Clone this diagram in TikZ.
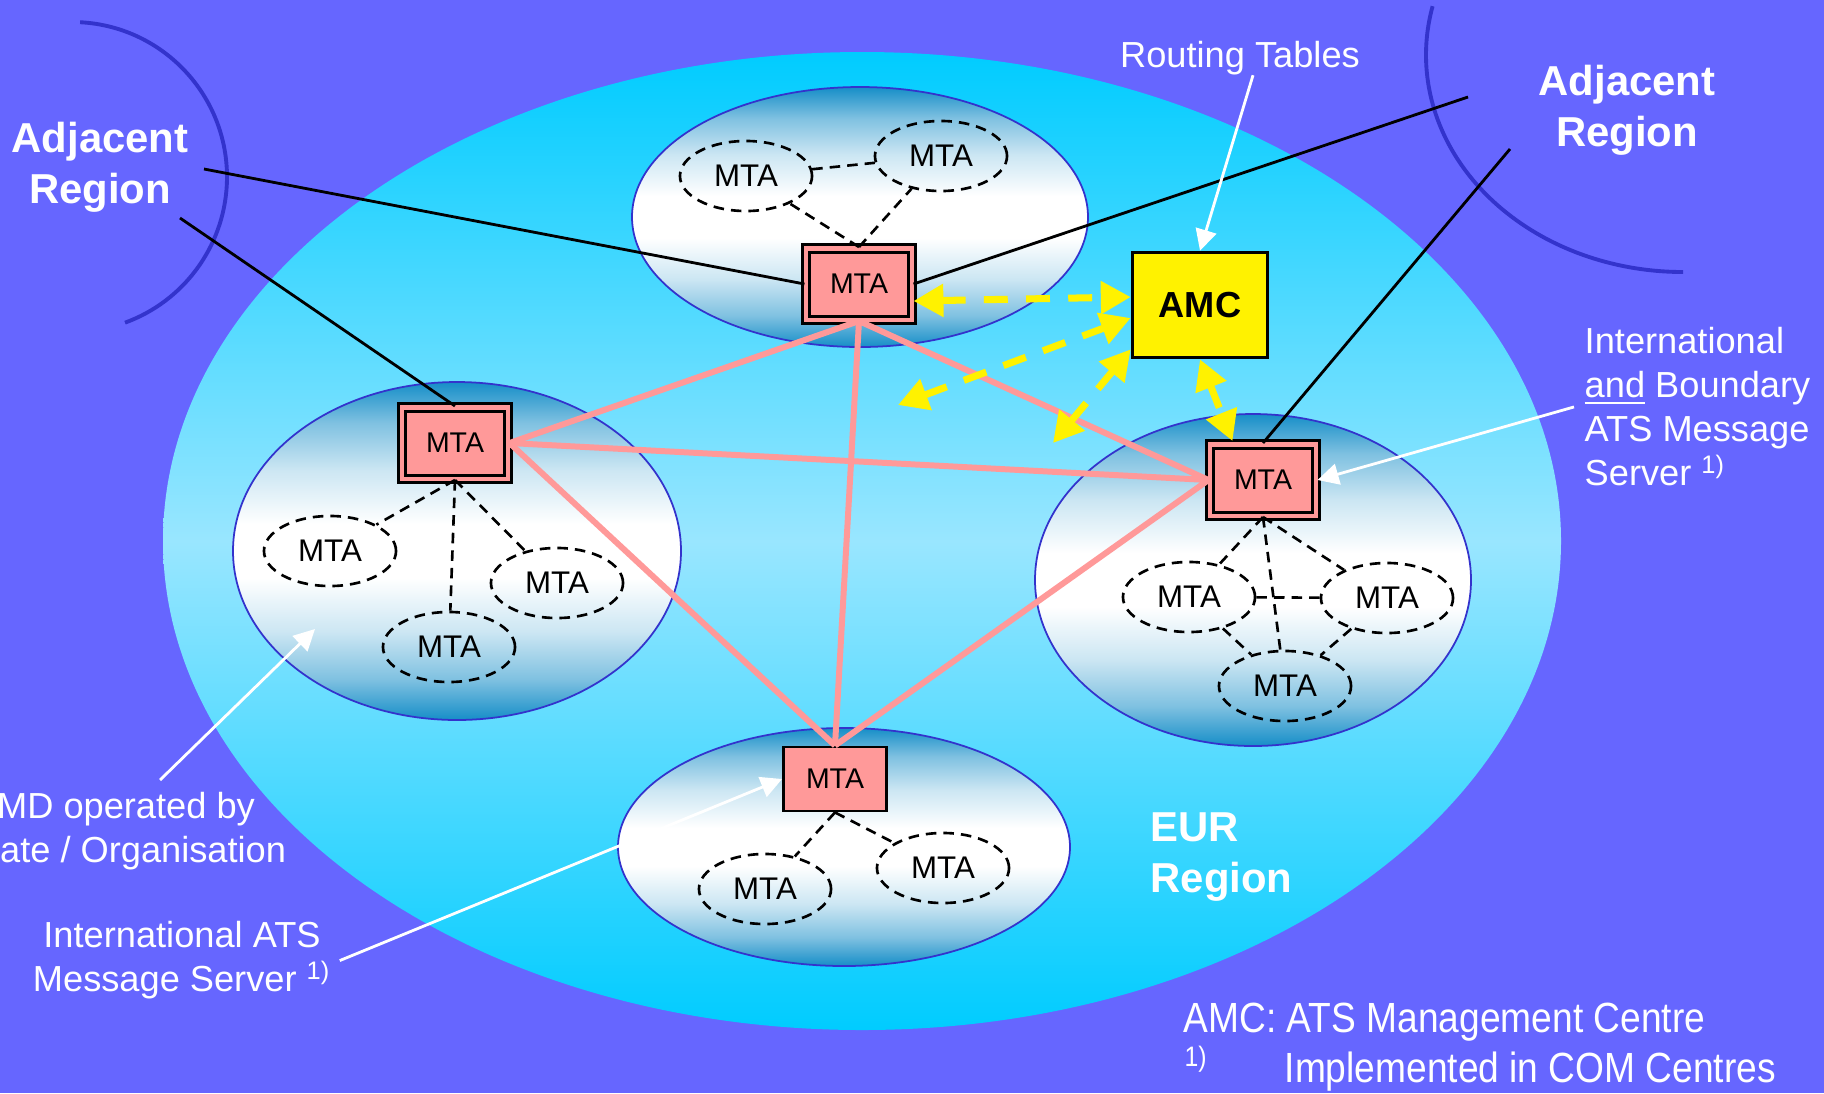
\documentclass[tikz,border=0pt]{standalone}
\usepackage{fontspec}
\setmainfont{Liberation Sans}
\newfontfamily\narrowfont[FakeStretch=0.88]{Liberation Sans}
\usepackage{xcolor}
\usetikzlibrary{positioning, arrows.meta, calc, shapes.geometric}

\definecolor{bgblue}{RGB}{102,102,255}
\definecolor{eurtop}{RGB}{0,204,255}
\definecolor{eurmid}{RGB}{153,230,255}
\definecolor{mdedge}{RGB}{22,142,200}
\colorlet{mdhalf}{mdedge!55!white}
\colorlet{mdpale}{mdedge!22!white}
\definecolor{mtapink}{RGB}{255,153,153}
\definecolor{rimblue}{RGB}{51,51,204}

\pgfdeclareverticalshading{mdshade}{100bp}{color(0bp)=(mdedge); color(25bp)=(mdedge);
  color(31bp)=(mdhalf); color(38bp)=(mdpale); color(46bp)=(white); color(54bp)=(white);
  color(62bp)=(mdpale); color(69bp)=(mdhalf); color(75bp)=(mdedge); color(100bp)=(mdedge)}

\begin{document}
\begin{tikzpicture}[ x = 0.01cm, y = -0.01cm
                   , >={Triangle[length=8.5pt, width=9pt]}
                   , mdarea/.style = { draw = rimblue, line width = 0.5pt
                                     , shading = mdshade }
                   , localmta/.style = { ellipse, draw = black, line width = 0.75pt
                                       , dash pattern = on 3pt off 2pt
                                       , minimum width = 1.32cm, minimum height = 0.7cm
                                       , inner sep = 0pt
                                       , font = \fontsize{8.9pt}{10pt}\selectfont }
                   , server/.style = { rectangle, draw = black, fill = mtapink
                                     , line width = 0.85pt, double = mtapink
                                     , double distance = 1.15pt
                                     , minimum width = 1.06cm, minimum height = 0.71cm
                                     , inner sep = 0pt
                                     , font = \fontsize{8.1pt}{9pt}\selectfont }
                   , link/.style = { line width = 0.75pt, dash pattern = on 3pt off 2pt }
                   , trunk/.style = { mtapink, line width = 1.7pt }
                   , extlink/.style = { black, line width = 0.8pt }
                   , rim/.style = { rimblue, line width = 1.1pt }
                   , mgmt/.style = { <->, yellow, line width = 2pt
                                   , dash pattern = on 6.8pt off 5.2pt }
                   , pointer/.style = { -{Triangle[length=6pt, width=6pt]}, white
                                      , line width = 0.8pt }
                   , note/.style = { text = white, inner sep = 0pt
                                   , font = \fontsize{10.3pt}{12.5pt}\selectfont }
                   , legend/.style = { note, anchor = base west
                                     , font = \narrowfont\fontsize{12pt}{14pt}\selectfont }
                   , region/.style = { text = white, inner sep = 0pt
                                     , font = \fontsize{11.9pt}{14.5pt}\selectfont\bfseries }
                   ]

  \useasboundingbox (0,0) rectangle (1824,1093);
  \fill[bgblue] (0,0) rectangle (1824,1093);

  % EUR region and the four domains
  \path[top color = eurtop, bottom color = eurtop, middle color = eurmid]
    (862,541) ellipse [x radius = 699, y radius = 489];
  \path[mdarea] (860,217) ellipse [x radius = 228, y radius = 130];
  \path[mdarea] (457,551) ellipse [x radius = 224, y radius = 169];
  \path[mdarea] (1253,580) ellipse [x radius = 218, y radius = 166];
  \path[mdarea] (844,847) ellipse [x radius = 226, y radius = 119];

  % adjacent regions
  \draw[rim] (72,177) ++(-87:155) arc [start angle = -87, end angle = 70, radius = 155];
  \draw[rim] (1683,55) ++(193:257 and 217)
    arc [start angle = 193, end angle = 90, x radius = 257, y radius = 217];

  \coordinate (adjLa) at (204,169);
  \coordinate (adjLb) at (180,218);
  \coordinate (adjRa) at (1468,97);
  \coordinate (adjRb) at (1510,149);
  \coordinate (amcOutA) at (898,405);
  \coordinate (amcOutB) at (1053,443);
  \coordinate (mdTip) at (315,629);

  \node (mtaT) [server] at (859,284) {MTA};
  \node (mtaL) [server] at (455,443) {MTA};
  \node (mtaR) [server] at (1263,480) {MTA};
  \node (mtaB) [server, double = none, line width = 0.8pt
               , minimum width = 1.03cm, minimum height = 0.64cm] at (835,779) {MTA};
  \node (amc) [rectangle, draw = black, fill = yellow, line width = 1pt
              , minimum width = 1.35cm, minimum height = 1.05cm
              , font = \fontsize{10.3pt}{12pt}\selectfont\bfseries] at (1200,305) {AMC};

  \node (topA) [localmta] at (746,176) {MTA};
  \node (topB) [localmta] at (941,156) {MTA};
  \node (leftA) [localmta] at (330,551) {MTA};
  \node (leftB) [localmta] at (557,583) {MTA};
  \node (leftC) [localmta] at (449,647) {MTA};
  \node (rightA) [localmta] at (1189,597) {MTA};
  \node (rightB) [localmta] at (1387,598) {MTA};
  \node (rightC) [localmta] at (1285,686) {MTA};
  \node (botA) [localmta] at (765,889) {MTA};
  \node (botB) [localmta] at (943,868) {MTA};

  \draw[link] (topA) -- (topB);
  \draw[link] (mtaT.north) -- (topA);
  \draw[link] (mtaT.north) -- (topB);
  \draw[link] (mtaL.south) -- (leftA);
  \draw[link] (mtaL.south) -- (leftB);
  \draw[link] (mtaL.south) -- (leftC);
  \draw[link] (mtaR.south) -- (rightA);
  \draw[link] (mtaR.south) -- (rightB);
  \draw[link] (mtaR.south) -- (rightC);
  \draw[link] (rightA) -- (rightB);
  \draw[link] (rightA) -- (rightC);
  \draw[link] (rightB) -- (rightC);
  \draw[link] (mtaB.south) -- (botA);
  \draw[link] (mtaB.south) -- (botB);

  \draw[extlink] (mtaT.west) -- (adjLa);
  \draw[extlink] (mtaL.north) -- (adjLb);
  \draw[extlink] (mtaT.east) -- (adjRa);
  \draw[extlink] (mtaR.north) -- (adjRb);

  \draw[trunk] (mtaT.south) -- (mtaL.east);
  \draw[trunk] (mtaT.south) -- (mtaR.west);
  \draw[trunk] (mtaT.south) -- (mtaB.north);
  \draw[trunk] (mtaL.east) -- (mtaR.west);
  \draw[trunk] (mtaL.east) -- (mtaB.north);
  \draw[trunk] (mtaR.west) -- (mtaB.north);

  \draw[mgmt] ($(mtaT.east)+(0,17)$) -- ($(amc.west)+(0,-8)$);
  \draw[mgmt] (amcOutA) -- ($(amc.west)+(0,13)$);
  \draw[mgmt] (amcOutB) -- ($(amc.south west)+(0,-10)$);
  \draw[mgmt] (amc.south) -- ($(mtaR.north west)+(24,-2)$);

  \node (adjLeft) [region, align = center, anchor = north] at (100,121) {Adjacent\\Region};
  \node (adjRight) [region, align = center, anchor = north] at (1627,64) {Adjacent\\Region};
  \node (eur) [region, align = left, anchor = north west] at (1150,812) {EUR\\Region};

  \node (routing) [note, anchor = base] at (1240,67) {Routing Tables};
  \node (intl) [note, align = left, anchor = north west] at (1584,327)
    {International\\\underline{and} Boundary\\ATS Message\\Server \textsuperscript{1)}};
  \node (mdnote) [note, align = center, anchor = north] at (126,792)
    {MD operated by\\State / Organisation};
  \node (amsnote) [note, align = center, anchor = north] at (182,921)
    {International ATS\\Message Server \textsuperscript{1)}};

  \draw[pointer] ([xshift = 0.13cm]routing.south) -- (amc.north);
  \draw[pointer] ([xshift = -0.1cm]intl.west) -- (mtaR.east);
  \draw[pointer] ([xshift = 0.34cm, yshift = 0.12cm]mdnote.north) -- (mdTip);
  \draw[pointer] ([xshift = 0.08cm]amsnote.east) -- (mtaB.west);

  \node (legAmc) [legend] at (1183,1032) {AMC: ATS Management Centre};
  \node (legMark) [legend] at (1184,1082) {\textsuperscript{1)}};
  \node (legImpl) [legend] at (1284,1082) {Implemented in COM Centres};

\end{tikzpicture}
\end{document}
